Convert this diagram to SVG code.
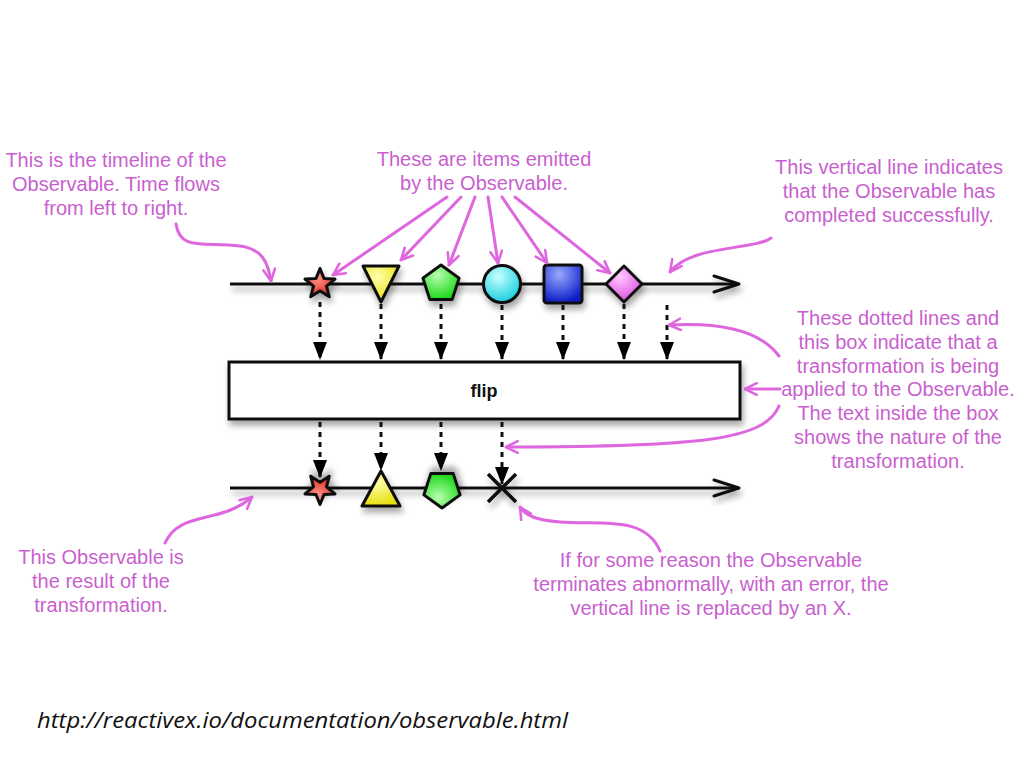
<svg xmlns="http://www.w3.org/2000/svg" width="1024" height="768" viewBox="0 0 1024 768">
<defs>
<style>
.note{font-family:"Liberation Sans",Arial,sans-serif;font-size:20px;fill:#c95fcf;text-anchor:middle}
.pink{fill:none;stroke:#de66de;stroke-width:3;stroke-linecap:round;marker-end:url(#pa)}
.tl{fill:none;stroke:#111;stroke-width:3}
.dot{fill:none;stroke:#111;stroke-width:3;stroke-dasharray:5 5}
.sh{stroke:#111;stroke-width:3;stroke-linejoin:round}
</style>
<filter id="ds" x="-30%" y="-30%" width="170%" height="190%">
<feDropShadow dx="2" dy="5" stdDeviation="3" flood-color="#000" flood-opacity="0.35"/>
</filter>
<marker id="pa" viewBox="0 0 12 12" refX="11" refY="6" markerWidth="14" markerHeight="14" markerUnits="userSpaceOnUse" orient="auto">
<path d="M1,1 L11,6 L1,11" fill="none" stroke="#de66de" stroke-width="2.2" stroke-linecap="round" stroke-linejoin="round"/>
</marker>
<marker id="ba" viewBox="0 0 18 14" refX="17" refY="7" markerWidth="18" markerHeight="14" markerUnits="userSpaceOnUse" orient="auto">
<path d="M0,0 L18,7 L0,14 Z" fill="#000"/>
</marker>
<radialGradient id="gRed" cx="40%" cy="30%" r="70%"><stop offset="0" stop-color="#ff9a8a"/><stop offset="1" stop-color="#e02a1e"/></radialGradient>
<radialGradient id="gYel" cx="40%" cy="30%" r="70%"><stop offset="0" stop-color="#ffffb0"/><stop offset="1" stop-color="#e8e010"/></radialGradient>
<radialGradient id="gGrn" cx="40%" cy="30%" r="70%"><stop offset="0" stop-color="#b8ffb0"/><stop offset="1" stop-color="#1ed81a"/></radialGradient>
<radialGradient id="gCyn" cx="40%" cy="30%" r="70%"><stop offset="0" stop-color="#c8ffff"/><stop offset="1" stop-color="#1ccfe0"/></radialGradient>
<radialGradient id="gBlu" cx="40%" cy="25%" r="75%"><stop offset="0" stop-color="#9aa8ff"/><stop offset="1" stop-color="#0c1ec8"/></radialGradient>
<radialGradient id="gMag" cx="40%" cy="30%" r="70%"><stop offset="0" stop-color="#ffc8ff"/><stop offset="1" stop-color="#e050e0"/></radialGradient>
<polygon id="star" points="0,-15.5 4,-5.5 15,-4.9 6.5,2.1 9.3,12.8 0,6.8 -9.3,12.8 -6.5,2.1 -15,-4.9 -4,-5.5"/>
<polygon id="pent" points="0,-19 18.1,-5.9 11.2,15.4 -11.2,15.4 -18.1,-5.9"/>
</defs>
<rect width="1024" height="768" fill="#fff"/>

<g id="source-timeline">
<g filter="url(#ds)">
<line class="tl" x1="230" y1="284" x2="738" y2="284"/>
<path class="tl" d="M714,276 L739,284 L714,292" stroke-linecap="round" stroke-linejoin="round"/>
</g>
</g>
<g id="item-star"><use href="#star" x="320" y="284" fill="url(#gRed)" class="sh" filter="url(#ds)" stroke-width="2.5"/></g>
<g id="item-triangle"><polygon points="363,266 399,266 381,302" fill="url(#gYel)" class="sh" filter="url(#ds)"/></g>
<g id="item-pentagon"><use href="#pent" x="441" y="284" fill="url(#gGrn)" class="sh" filter="url(#ds)"/></g>
<g id="item-circle"><circle cx="502" cy="284" r="18.5" fill="url(#gCyn)" class="sh" filter="url(#ds)"/></g>
<g id="item-square"><rect x="544" y="265" width="38" height="38" rx="3" fill="url(#gBlu)" class="sh" filter="url(#ds)"/></g>
<g id="item-diamond"><polygon points="624,266 642,284 624,302 606,284" fill="url(#gMag)" class="sh" filter="url(#ds)"/></g>
<g id="completion-line"><line x1="667" y1="270" x2="667" y2="302" stroke="#111" stroke-width="3.5" filter="url(#ds)"/></g>

<g id="flip-box">
<rect x="229" y="362" width="511" height="57" fill="#fff" stroke="#111" stroke-width="3" filter="url(#ds)"/>
<text x="484" y="397" font-family="'Liberation Sans',Arial,sans-serif" font-size="18" font-weight="bold" text-anchor="middle" fill="#111">flip</text>
</g>

<g id="result-timeline">
<g filter="url(#ds)">
<line class="tl" x1="230" y1="488" x2="738" y2="488"/>
<path class="tl" d="M714,480 L739,488 L714,496" stroke-linecap="round" stroke-linejoin="round"/>
</g>
</g>
<g id="result-star"><use href="#star" x="320" y="0" transform="translate(0,489) scale(1,-1)" fill="url(#gRed)" class="sh" filter="url(#ds)" stroke-width="2.5"/></g>
<g id="result-triangle"><polygon points="381,471 400,506 362,506" fill="url(#gYel)" class="sh" filter="url(#ds)"/></g>
<g id="result-pentagon"><use href="#pent" x="442" y="0" transform="translate(0,489) scale(1,-1)" fill="url(#gGrn)" class="sh" filter="url(#ds)"/></g>
<g id="error-x" filter="url(#ds)"><path d="M488,474 L516,502 M516,474 L488,502" stroke="#111" stroke-width="3.5" fill="none"/></g>

<g id="connectors">
<line class="dot" x1="320" y1="302" x2="320" y2="359" marker-end="url(#ba)"/>
<line class="dot" x1="381" y1="304" x2="381" y2="359" marker-end="url(#ba)"/>
<line class="dot" x1="441" y1="304" x2="441" y2="359" marker-end="url(#ba)"/>
<line class="dot" x1="502" y1="305" x2="502" y2="359" marker-end="url(#ba)"/>
<line class="dot" x1="563" y1="305" x2="563" y2="359" marker-end="url(#ba)"/>
<line class="dot" x1="624" y1="304" x2="624" y2="359" marker-end="url(#ba)"/>
<line class="dot" x1="667" y1="305" x2="667" y2="359" marker-end="url(#ba)"/>
<line class="dot" x1="320" y1="422" x2="320" y2="477" marker-end="url(#ba)"/>
<line class="dot" x1="381" y1="422" x2="381" y2="470" marker-end="url(#ba)"/>
<line class="dot" x1="441" y1="422" x2="441" y2="470" marker-end="url(#ba)"/>
<line class="dot" x1="502" y1="422" x2="502" y2="484" marker-end="url(#ba)"/>

<path class="pink" d="M176,224 C180,250 200,242 240,246 C262,249 268,262 271,281"/>
<path class="pink" d="M447,197 L333,275"/>
<path class="pink" d="M461,197 L401,260"/>
<path class="pink" d="M475,197 L449,265"/>
<path class="pink" d="M488,197 L498,263"/>
<path class="pink" d="M502,197 L547,263"/>
<path class="pink" d="M515,197 L610,273"/>
<path class="pink" d="M771,238 C755,250 690,245 670,272"/>
<path class="pink" d="M779,356 C760,330 720,322 669,325"/>
<path class="pink" d="M780,389 L745,389"/>
<path class="pink" d="M779,406 C765,440 700,447 506,447"/>
<path class="pink" d="M165,543 C180,510 220,525 252,497"/>
<path class="pink" d="M660,551 C645,515 600,525 560,522 C535,520 525,515 520,507"/>
</g>

<g id="note-timeline">
<text class="note" x="116" y="167">This is the timeline of the</text>
<text class="note" x="116" y="191">Observable. Time flows</text>
<text class="note" x="116" y="215">from left to right.</text>
</g>
<g id="note-items">
<text class="note" x="484" y="166">These are items emitted</text>
<text class="note" x="484" y="190">by the Observable.</text>
</g>
<g id="note-completed">
<text class="note" x="889" y="174">This vertical line indicates</text>
<text class="note" x="889" y="198">that the Observable has</text>
<text class="note" x="889" y="222">completed successfully.</text>
</g>
<g id="note-transformation">
<text class="note" x="898" y="325">These dotted lines and</text>
<text class="note" x="898" y="349">this box indicate that a</text>
<text class="note" x="898" y="373">transformation is being</text>
<text class="note" x="898" y="396">applied to the Observable.</text>
<text class="note" x="898" y="420">The text inside the box</text>
<text class="note" x="898" y="444">shows the nature of the</text>
<text class="note" x="898" y="468">transformation.</text>
</g>
<g id="note-result">
<text class="note" x="101" y="564">This Observable is</text>
<text class="note" x="101" y="588">the result of the</text>
<text class="note" x="101" y="612">transformation.</text>
</g>
<g id="note-error">
<text class="note" x="711" y="567">If for some reason the Observable</text>
<text class="note" x="711" y="591">terminates abnormally, with an error, the</text>
<text class="note" x="711" y="615">vertical line is replaced by an X.</text>
</g>
<text x="37" y="728" font-family="'Open Sans','Liberation Sans',sans-serif" font-style="italic" font-size="22" fill="#111" textLength="531" lengthAdjust="spacingAndGlyphs">http://reactivex.io/documentation/observable.html</text>
</svg>
